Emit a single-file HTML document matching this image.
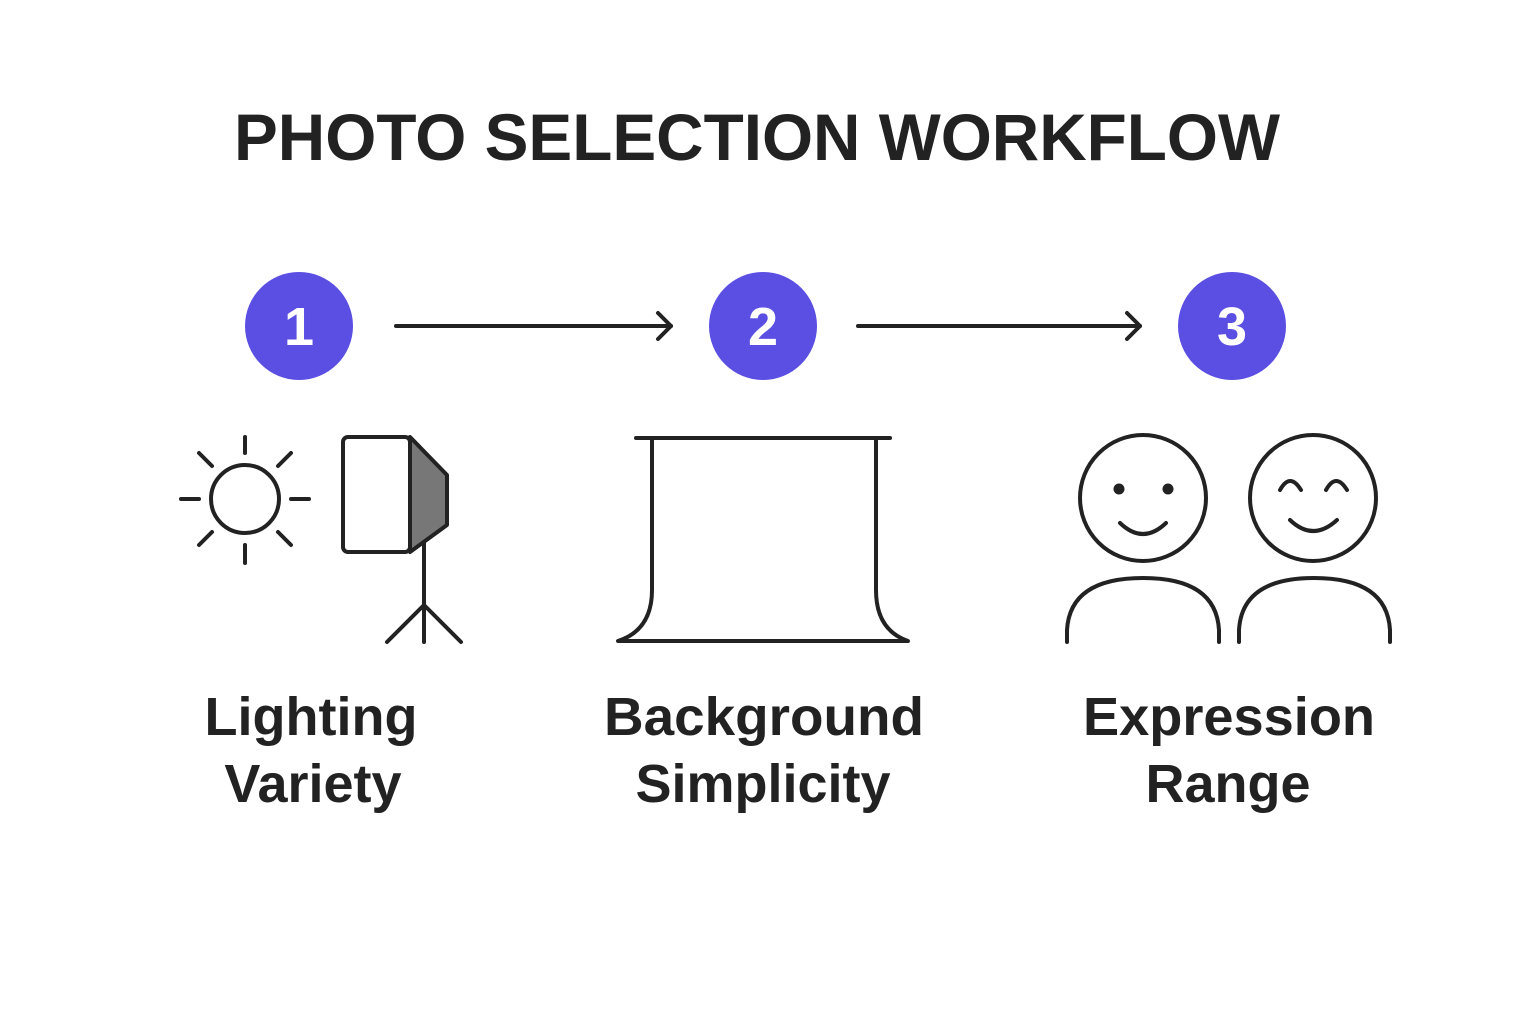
<!DOCTYPE html>
<html><head><meta charset="utf-8"><style>html,body{margin:0;padding:0;background:#fff}svg{display:block}</style></head>
<body>
<svg width="1536" height="1024" viewBox="0 0 1536 1024" xmlns="http://www.w3.org/2000/svg">
<rect width="1536" height="1024" fill="#fff"/>
<g font-family="Liberation Sans, sans-serif" font-weight="bold" fill="#222" text-anchor="middle">
<text x="757" y="160" font-size="66" textLength="1046" lengthAdjust="spacingAndGlyphs">PHOTO SELECTION WORKFLOW</text>
<text x="311" y="735" font-size="54">Lighting</text>
<text x="313" y="802" font-size="54">Variety</text>
<text x="764" y="735" font-size="54" textLength="320" lengthAdjust="spacingAndGlyphs">Background</text>
<text x="763" y="802" font-size="54">Simplicity</text>
<text x="1229" y="735" font-size="54" textLength="292" lengthAdjust="spacingAndGlyphs">Expression</text>
<text x="1228" y="802" font-size="54">Range</text>
</g>
<g fill="#5a4ee3">
<circle cx="299" cy="326" r="54"/><circle cx="763" cy="326" r="54"/><circle cx="1232" cy="326" r="54"/>
</g>
<g font-family="Liberation Sans, sans-serif" font-weight="bold" fill="#fff" text-anchor="middle" font-size="54">
<text x="299" y="345">1</text><text x="763" y="345">2</text><text x="1232" y="345">3</text>
</g>
<g stroke="#222" stroke-width="4" fill="none" stroke-linecap="round" stroke-linejoin="round">
<line x1="396" y1="326" x2="671" y2="326"/><polyline points="658,313 671,326 658,339"/>
<line x1="858" y1="326" x2="1140" y2="326"/><polyline points="1127,313 1140,326 1127,339"/>
<circle cx="245" cy="499" r="34"/>
<line x1="245" y1="437" x2="245" y2="453"/><line x1="245" y1="545" x2="245" y2="563"/>
<line x1="181" y1="499" x2="199" y2="499"/><line x1="291" y1="499" x2="309" y2="499"/>
<line x1="199" y1="453" x2="212" y2="466"/><line x1="278" y1="532" x2="291" y2="545"/>
<line x1="291" y1="453" x2="278" y2="466"/><line x1="212" y1="532" x2="199" y2="545"/>
<rect x="343" y="437" width="67" height="115" rx="5"/>
<path d="M410,437 L447,475 L447,525 L410,552 Z" fill="#777"/>
<line x1="424" y1="542" x2="424" y2="642"/>
<path d="M387,642 L424,605 L461,642"/>
<line x1="636" y1="438" x2="890" y2="438"/>
<path d="M652,438 L652,590 Q652,630 618,641 L908,641 Q876,630 876,590 L876,438"/>
<circle cx="1143" cy="498" r="63"/>
<path d="M1120,523 Q1143,545 1166,523"/>
<path d="M1067,642 L1067,630 Q1070,578 1143,578 Q1216,578 1219,630 L1219,642"/>
<circle cx="1313" cy="498" r="63"/>
<path d="M1290,520 Q1313,542 1337,520"/>
<path d="M1280,490 Q1290,472 1301,490"/><path d="M1326,490 Q1336,472 1347,490"/>
<path d="M1239,642 L1239,630 Q1242,578 1314,578 Q1387,578 1390,630 L1390,642"/>
</g>
<circle cx="1119" cy="489" r="5.5" fill="#222"/><circle cx="1168" cy="489" r="5.5" fill="#222"/>
</svg>
</body></html>
